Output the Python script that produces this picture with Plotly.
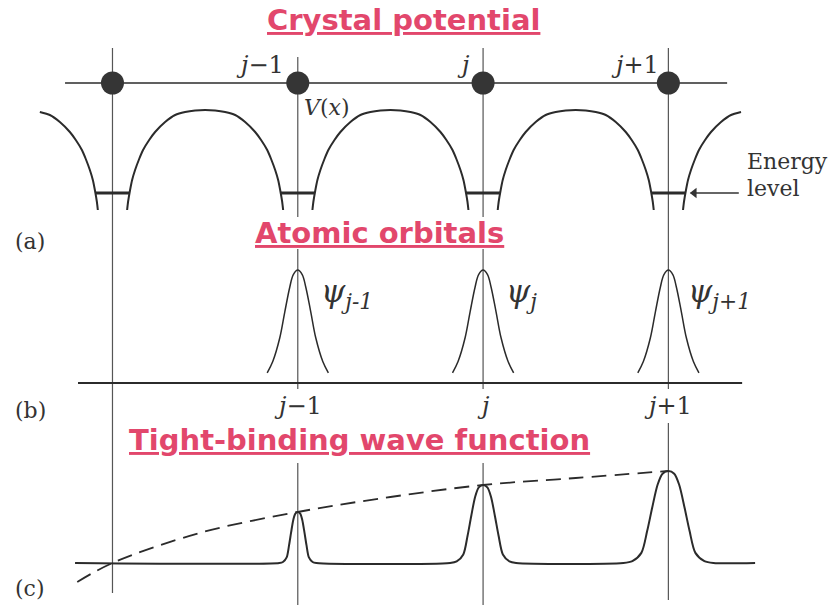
import plotly.graph_objects as go

# ---------------------------------------------------------------------------
# Data (x in lattice units: site j -> 0, j-1 -> -1, ...)
# ---------------------------------------------------------------------------
SITES = [-2, -1, 0, 1]
SITE_LABELS = {-1: "<i>j</i>−1", 0: "<i>j</i>", 1: "<i>j</i>+1"}

# (a) crystal potential: one barrier profile between neighbouring ions
BARRIER_CENTERS = [-2.5, -1.5, -0.5, 0.5, 1.5]
ARCH_DX = [-0.421, -0.416, -0.405, -0.394, -0.378, -0.356, -0.335, -0.302,
           -0.270, -0.216, -0.162, -0.108, -0.054, 0.0,
           0.054, 0.108, 0.162, 0.216, 0.270, 0.302, 0.335, 0.356, 0.378,
           0.394, 0.405, 0.416, 0.421]
ARCH_V = [0.00, 0.08, 0.20, 0.30, 0.40, 0.51, 0.60, 0.70,
          0.78, 0.88, 0.95, 0.98, 0.995, 1.00,
          0.995, 0.98, 0.95, 0.88, 0.78, 0.70, 0.60, 0.51, 0.40,
          0.30, 0.20, 0.08, 0.00]
POTENTIAL_XLIM = (-2.40, 1.42)
LATTICE_ROW = 1.27
LATTICE_X = (-2.256, 1.317)
ENERGY_LEVEL = 0.17
WELL_HALF = 0.092
ARROW_X = (1.38, 1.12)   # tail, tip of the "Energy level" pointer

# (b) atomic orbitals
ORBITAL_SITES = [-1, 0, 1]
ORB_DX = [-0.165, -0.135, -0.097, -0.070, -0.043, -0.024, 0.0,
          0.024, 0.043, 0.070, 0.097, 0.135, 0.165]
ORB_F = [0.09, 0.19, 0.40, 0.63, 0.85, 0.96, 1.00,
         0.96, 0.85, 0.63, 0.40, 0.19, 0.09]
AXIS_B_X = (-2.186, 1.398)

# (c) tight-binding wave function
PEAK_SITES = [-1, 0, 1]
PEAK_HEIGHTS = [0.51, 0.78, 0.92]
PEAK_HALF_WIDTHS = [0.100, 0.178, 0.243]
PEAK_U = [-1.0, -0.8, -0.6, -0.47, -0.36, -0.24, -0.13, 0.0,
          0.13, 0.24, 0.36, 0.47, 0.6, 0.8, 1.0]
PEAK_F = [0.0, 0.02, 0.11, 0.35, 0.60, 0.85, 0.97, 1.0,
          0.97, 0.85, 0.60, 0.35, 0.11, 0.02, 0.0]
BASELINE_C_X = (-2.202, 1.468)
ENVELOPE_X = [-2.19, -2.0, -1.53, -1.0, -0.5, 0.0, 0.5, 1.0]
ENVELOPE_Y = [-0.19, 0.0, 0.30, 0.51, 0.66, 0.78, 0.85, 0.92]

# ---------------------------------------------------------------------------
# Layout geometry
# ---------------------------------------------------------------------------
W, H = 828, 609
X_LEFT = -2.607
PX_PER_UNIT = 185.3
X_RANGE = [X_LEFT, X_LEFT + W / PX_PER_UNIT]

INK = "#2b2b2b"
GRID_INK = "#555555"
TITLE_RED = "#e2476c"


def paper_y(py):
    return 1 - py / H


def paper_x(px):
    return px / W


# panel: baseline pixel row, pixels per unit, top/bottom pixel rows
PANELS = {
    "y": dict(base=210, scale=100, top=0, bottom=230),
    "y2": dict(base=383, scale=113, top=232, bottom=400),
    "y3": dict(base=563, scale=100, top=402, bottom=609),
}


def axis_cfg(p):
    return dict(
        domain=[paper_y(p["bottom"]), paper_y(p["top"])],
        range=[(p["base"] - p["bottom"]) / p["scale"],
               (p["base"] - p["top"]) / p["scale"]],
        visible=False, fixedrange=True, anchor="x",
    )


fig = go.Figure()

# ---- (a) potential ---------------------------------------------------------
px_, py_ = [], []
for c in BARRIER_CENTERS:
    for dx, v in zip(ARCH_DX, ARCH_V):
        x = c + dx
        if POTENTIAL_XLIM[0] <= x <= POTENTIAL_XLIM[1]:
            px_.append(x)
            py_.append(v)
    px_.append(None)
    py_.append(None)
fig.add_trace(go.Scatter(x=px_, y=py_, mode="lines", yaxis="y",
                         line=dict(color=INK, width=2, shape="spline",
                                   smoothing=0.6),
                         hoverinfo="skip"))

# energy levels inside each well
ex, ey = [], []
for s in SITES:
    ex += [s - WELL_HALF, s + WELL_HALF, None]
    ey += [ENERGY_LEVEL, ENERGY_LEVEL, None]
fig.add_trace(go.Scatter(x=ex, y=ey, mode="lines", yaxis="y",
                         line=dict(color=INK, width=2.8), hoverinfo="skip"))

# pointer to the energy level
fig.add_trace(go.Scatter(x=list(ARROW_X), y=[ENERGY_LEVEL] * 2, mode="lines",
                         yaxis="y", line=dict(color="#333333", width=1.5),
                         hoverinfo="skip"))
fig.add_trace(go.Scatter(x=[ARROW_X[1] + 0.02], y=[ENERGY_LEVEL],
                         mode="markers", yaxis="y",
                         marker=dict(symbol="triangle-left", size=9,
                                     color="#333333", line=dict(width=0)),
                         hoverinfo="skip"))

# lattice row with ions
fig.add_trace(go.Scatter(x=list(LATTICE_X), y=[LATTICE_ROW] * 2, mode="lines",
                         yaxis="y", line=dict(color=INK, width=1.5),
                         hoverinfo="skip"))
fig.add_trace(go.Scatter(x=SITES, y=[LATTICE_ROW] * len(SITES), mode="markers",
                         yaxis="y",
                         marker=dict(size=23, color="#353535",
                                     line=dict(width=0)),
                         hoverinfo="skip"))

# ---- (b) atomic orbitals ---------------------------------------------------
ox, oy = [], []
for s in ORBITAL_SITES:
    for dx, f in zip(ORB_DX, ORB_F):
        ox.append(s + dx)
        oy.append(f)
    ox.append(None)
    oy.append(None)
fig.add_trace(go.Scatter(x=ox, y=oy, mode="lines", yaxis="y2",
                         line=dict(color=INK, width=1.5, shape="spline"),
                         hoverinfo="skip"))
fig.add_trace(go.Scatter(x=list(AXIS_B_X), y=[0, 0], mode="lines", yaxis="y2",
                         line=dict(color=INK, width=1.8), hoverinfo="skip"))

# ---- (c) tight-binding wave function ---------------------------------------
wx, wy = [BASELINE_C_X[0]], [0.0]
for s, h, hw in zip(PEAK_SITES, PEAK_HEIGHTS, PEAK_HALF_WIDTHS):
    for u, f in zip(PEAK_U, PEAK_F):
        wx.append(s + u * hw)
        wy.append(h * f)
wx.append(BASELINE_C_X[1])
wy.append(0.0)
fig.add_trace(go.Scatter(x=wx, y=wy, mode="lines", yaxis="y3",
                         line=dict(color=INK, width=2, shape="spline",
                                   smoothing=0.8),
                         hoverinfo="skip"))
fig.add_trace(go.Scatter(x=ENVELOPE_X, y=ENVELOPE_Y, mode="lines", yaxis="y3",
                         line=dict(color=INK, width=1.8, shape="spline",
                                   dash="15px,8px"),
                         hoverinfo="skip"))

# ---- vertical site lines (broken where labels sit) -------------------------
SITE_SEGMENTS = {
    -2: [(48, 593)],
    -1: [(57, 217), (249, 389), (463, 605)],
    0: [(48, 217), (249, 389), (463, 605)],
    1: [(48, 389), (423, 600)],
}
for s, segs in SITE_SEGMENTS.items():
    for top, bot in segs:
        fig.add_shape(type="line", xref="x", yref="paper",
                      x0=s, x1=s, y0=paper_y(bot), y1=paper_y(top),
                      line=dict(color=GRID_INK, width=1.2), layer="below")

# ---- text ------------------------------------------------------------------
SERIF = "DejaVu Serif"


def title(text, cx, cy):
    fig.add_annotation(text=text, xref="paper", yref="paper",
                       x=paper_x(cx), y=paper_y(cy), xanchor="center",
                       yanchor="middle", showarrow=False,
                       font=dict(family="DejaVu Sans", size=29, weight="bold",
                                 color=TITLE_RED, lineposition="under"))


title("Crystal potential", 403, 20)
title("Atomic orbitals", 379, 233)
title("Tight-binding wave function", 359, 440)


def label(text, cx, cy, size=22, xanchor="center"):
    fig.add_annotation(text=text, xref="paper", yref="paper",
                       x=paper_x(cx), y=paper_y(cy), xanchor=xanchor,
                       yanchor="middle", showarrow=False,
                       font=dict(family=SERIF, size=size, color="#333333"))


# site labels above the lattice row
for s, rx in zip([-1, 0, 1], [286, 472, 661]):
    fig.add_annotation(text=SITE_LABELS[s], xref="paper", yref="paper",
                       x=paper_x(rx), y=paper_y(65), xanchor="right",
                       yanchor="middle", showarrow=False,
                       font=dict(family=SERIF, size=24, color="#333333"))

# site labels under the orbital axis
for s in [-1, 0, 1]:
    fig.add_annotation(text=SITE_LABELS[s], xref="x", yref="paper",
                       x=s, y=paper_y(406), xanchor="center", yanchor="middle",
                       showarrow=False,
                       font=dict(family=SERIF, size=24, color="#333333"))

label("<i>V</i>(<i>x</i>)", 302, 107, size=22, xanchor="left")
label("Energy", 745, 161, size=22, xanchor="left")
label("level", 745, 188, size=22, xanchor="left")
label("(a)", 30, 242)
label("(b)", 30, 410)
label("(c)", 30, 588)

# orbital names
for txt, lx in [("<i>ψ</i><sub><i>j-1</i></sub>", 319),
                ("<i>ψ</i><sub><i>j</i></sub>", 504),
                ("<i>ψ</i><sub><i>j+1</i></sub>", 686)]:
    fig.add_annotation(text=txt, xref="paper", yref="paper",
                       x=paper_x(lx), y=paper_y(293), xanchor="left",
                       yanchor="middle", showarrow=False,
                       font=dict(family=SERIF, size=31, color="#333333"))

fig.update_layout(
    width=W, height=H,
    margin=dict(l=0, r=0, t=0, b=0),
    paper_bgcolor="white", plot_bgcolor="white",
    showlegend=False,
    xaxis=dict(range=X_RANGE, visible=False, fixedrange=True,
               domain=[0, 1]),
    yaxis=axis_cfg(PANELS["y"]),
    yaxis2=axis_cfg(PANELS["y2"]),
    yaxis3=axis_cfg(PANELS["y3"]),
)

fig.write_html("out.html")
